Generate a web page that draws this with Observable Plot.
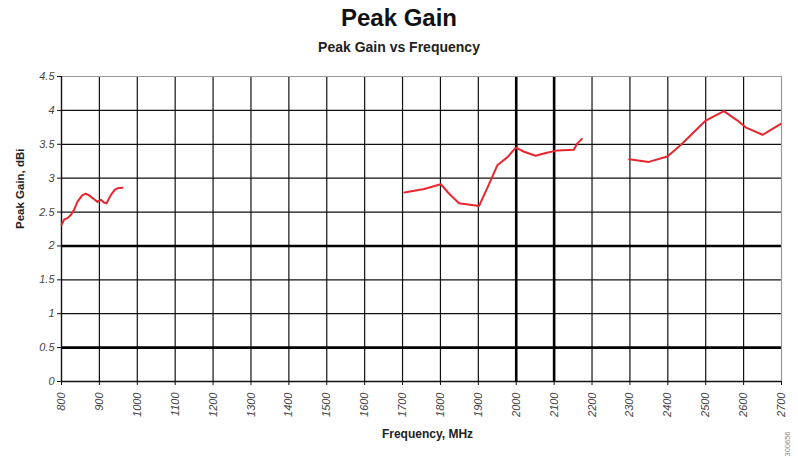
<!DOCTYPE html>
<html>
<head>
<meta charset="utf-8">
<script src="https://cdn.jsdelivr.net/npm/d3@7"></script>
<script src="https://cdn.jsdelivr.net/npm/@observablehq/plot@0.6"></script>
<style>
  body { margin: 0; background: #fff; font-family: "Liberation Sans", Arial, sans-serif; }
  #wrap { width: 798px; }
  #head { position: relative; height: 60px; }
  #title { position: absolute; left: 0; right: 0; top: 4px; line-height: 28px; text-align: center; font-size: 24px; font-weight: bold; color: #111; }
  #sub { position: absolute; left: 0; right: 0; top: 38px; line-height: 18px; text-align: center; font-size: 14px; font-weight: bold; color: #222; }
</style>
</head>
<body>
<div id="wrap">
  <div id="head">
    <div id="title">Peak Gain</div>
    <div id="sub">Peak Gain vs Frequency</div>
  </div>
  <div id="chart"></div>
</div>
<script>
const freq1 = [800, 807, 816, 825, 833, 842, 855, 864, 872, 886, 895, 904, 912, 919, 930, 941, 948, 961];
const gain1 = [2.31, 2.39, 2.41, 2.46, 2.53, 2.65, 2.75, 2.77, 2.75, 2.69, 2.65, 2.68, 2.64, 2.63, 2.75, 2.83, 2.85, 2.86];
const freq2 = [1705, 1757, 1801, 1823, 1849, 1902, 1933, 1950, 1977, 1999, 2021, 2051, 2078, 2109, 2152, 2161, 2173];
const gain2 = [2.79, 2.84, 2.91, 2.77, 2.63, 2.59, 2.97, 3.19, 3.31, 3.45, 3.39, 3.33, 3.37, 3.41, 3.42, 3.51, 3.58];
const freq3 = [2298, 2350, 2399, 2434, 2465, 2500, 2548, 2584, 2605, 2650, 2698];
const gain3 = [3.28, 3.24, 3.32, 3.49, 3.66, 3.85, 3.99, 3.85, 3.75, 3.64, 3.80];

const xTicks = [800, 900, 1000, 1100, 1200, 1300, 1400, 1500, 1600, 1700, 1800, 1900, 2000, 2100, 2200, 2300, 2400, 2500, 2600, 2700];
const yTicks = [0, 0.5, 1, 1.5, 2, 2.5, 3, 3.5, 4, 4.5];
const thickY = [2, 0.5];
const thickX = [2000, 2100];

const data = [
  ...freq1.map((f, i) => ({f, g: gain1[i], s: 1})),
  ...freq2.map((f, i) => ({f, g: gain2[i], s: 2})),
  ...freq3.map((f, i) => ({f, g: gain3[i], s: 3}))
];

const chart = Plot.plot({
  width: 798,
  height: 398,
  marginTop: 16,
  marginBottom: 77,
  marginLeft: 61,
  marginRight: 17,
  style: { fontFamily: "'Liberation Sans', Arial, sans-serif", background: "#fff" },
  x: { domain: [800, 2700] },
  y: { domain: [0, 4.5] },
  marks: [
    Plot.gridX(xTicks.slice(1, -1), { stroke: "#111", strokeOpacity: 1, strokeWidth: 1.2 }),
    Plot.gridY(yTicks.slice(1, -1), { stroke: "#111", strokeOpacity: 1, strokeWidth: 1.2 }),
    Plot.ruleY(thickY, { stroke: "#000", strokeWidth: 2.6 }),
    Plot.ruleX(thickX, { stroke: "#000", strokeWidth: 2.6 }),
    Plot.ruleY([4.5], { stroke: "#999", strokeWidth: 1.2 }),
    Plot.ruleX([2700], { stroke: "#999", strokeWidth: 1.2 }),
    Plot.ruleX([800], { stroke: "#111", strokeWidth: 1.4 }),
    Plot.ruleY([0], { stroke: "#111", strokeWidth: 1.4 }),
    Plot.axisY(yTicks, { tickSize: 4, tickPadding: 3, fontSize: 11, fontStyle: "italic", fill: "#444", stroke: "#111", label: null, tickFormat: d => String(d) }),
    Plot.axisX(xTicks, { tickSize: 4, tickPadding: 7, tickRotate: -90, fontSize: 11, fontStyle: "italic", fill: "#444", stroke: "#111", label: null, tickFormat: d => String(d) }),
    Plot.line(data, { x: "f", y: "g", z: "s", stroke: "#e8262f", strokeWidth: 2, curve: "linear" }),
    Plot.text(["Peak Gain, dBi"], { frameAnchor: "left", dx: -41, rotate: -90, fontSize: 11.5, fontWeight: "bold", fill: "#222" }),
    Plot.text(["Frequency, MHz"], { frameAnchor: "bottom", dx: 6, dy: 56, fontSize: 12, fontWeight: "bold", fill: "#222" }),
    Plot.text(["300656"], { frameAnchor: "bottom-right", dx: 8, dy: 50, rotate: -90, fontSize: 7.5, fill: "#888" })
  ]
});
document.getElementById("chart").appendChild(chart);
</script>
</body>
</html>
